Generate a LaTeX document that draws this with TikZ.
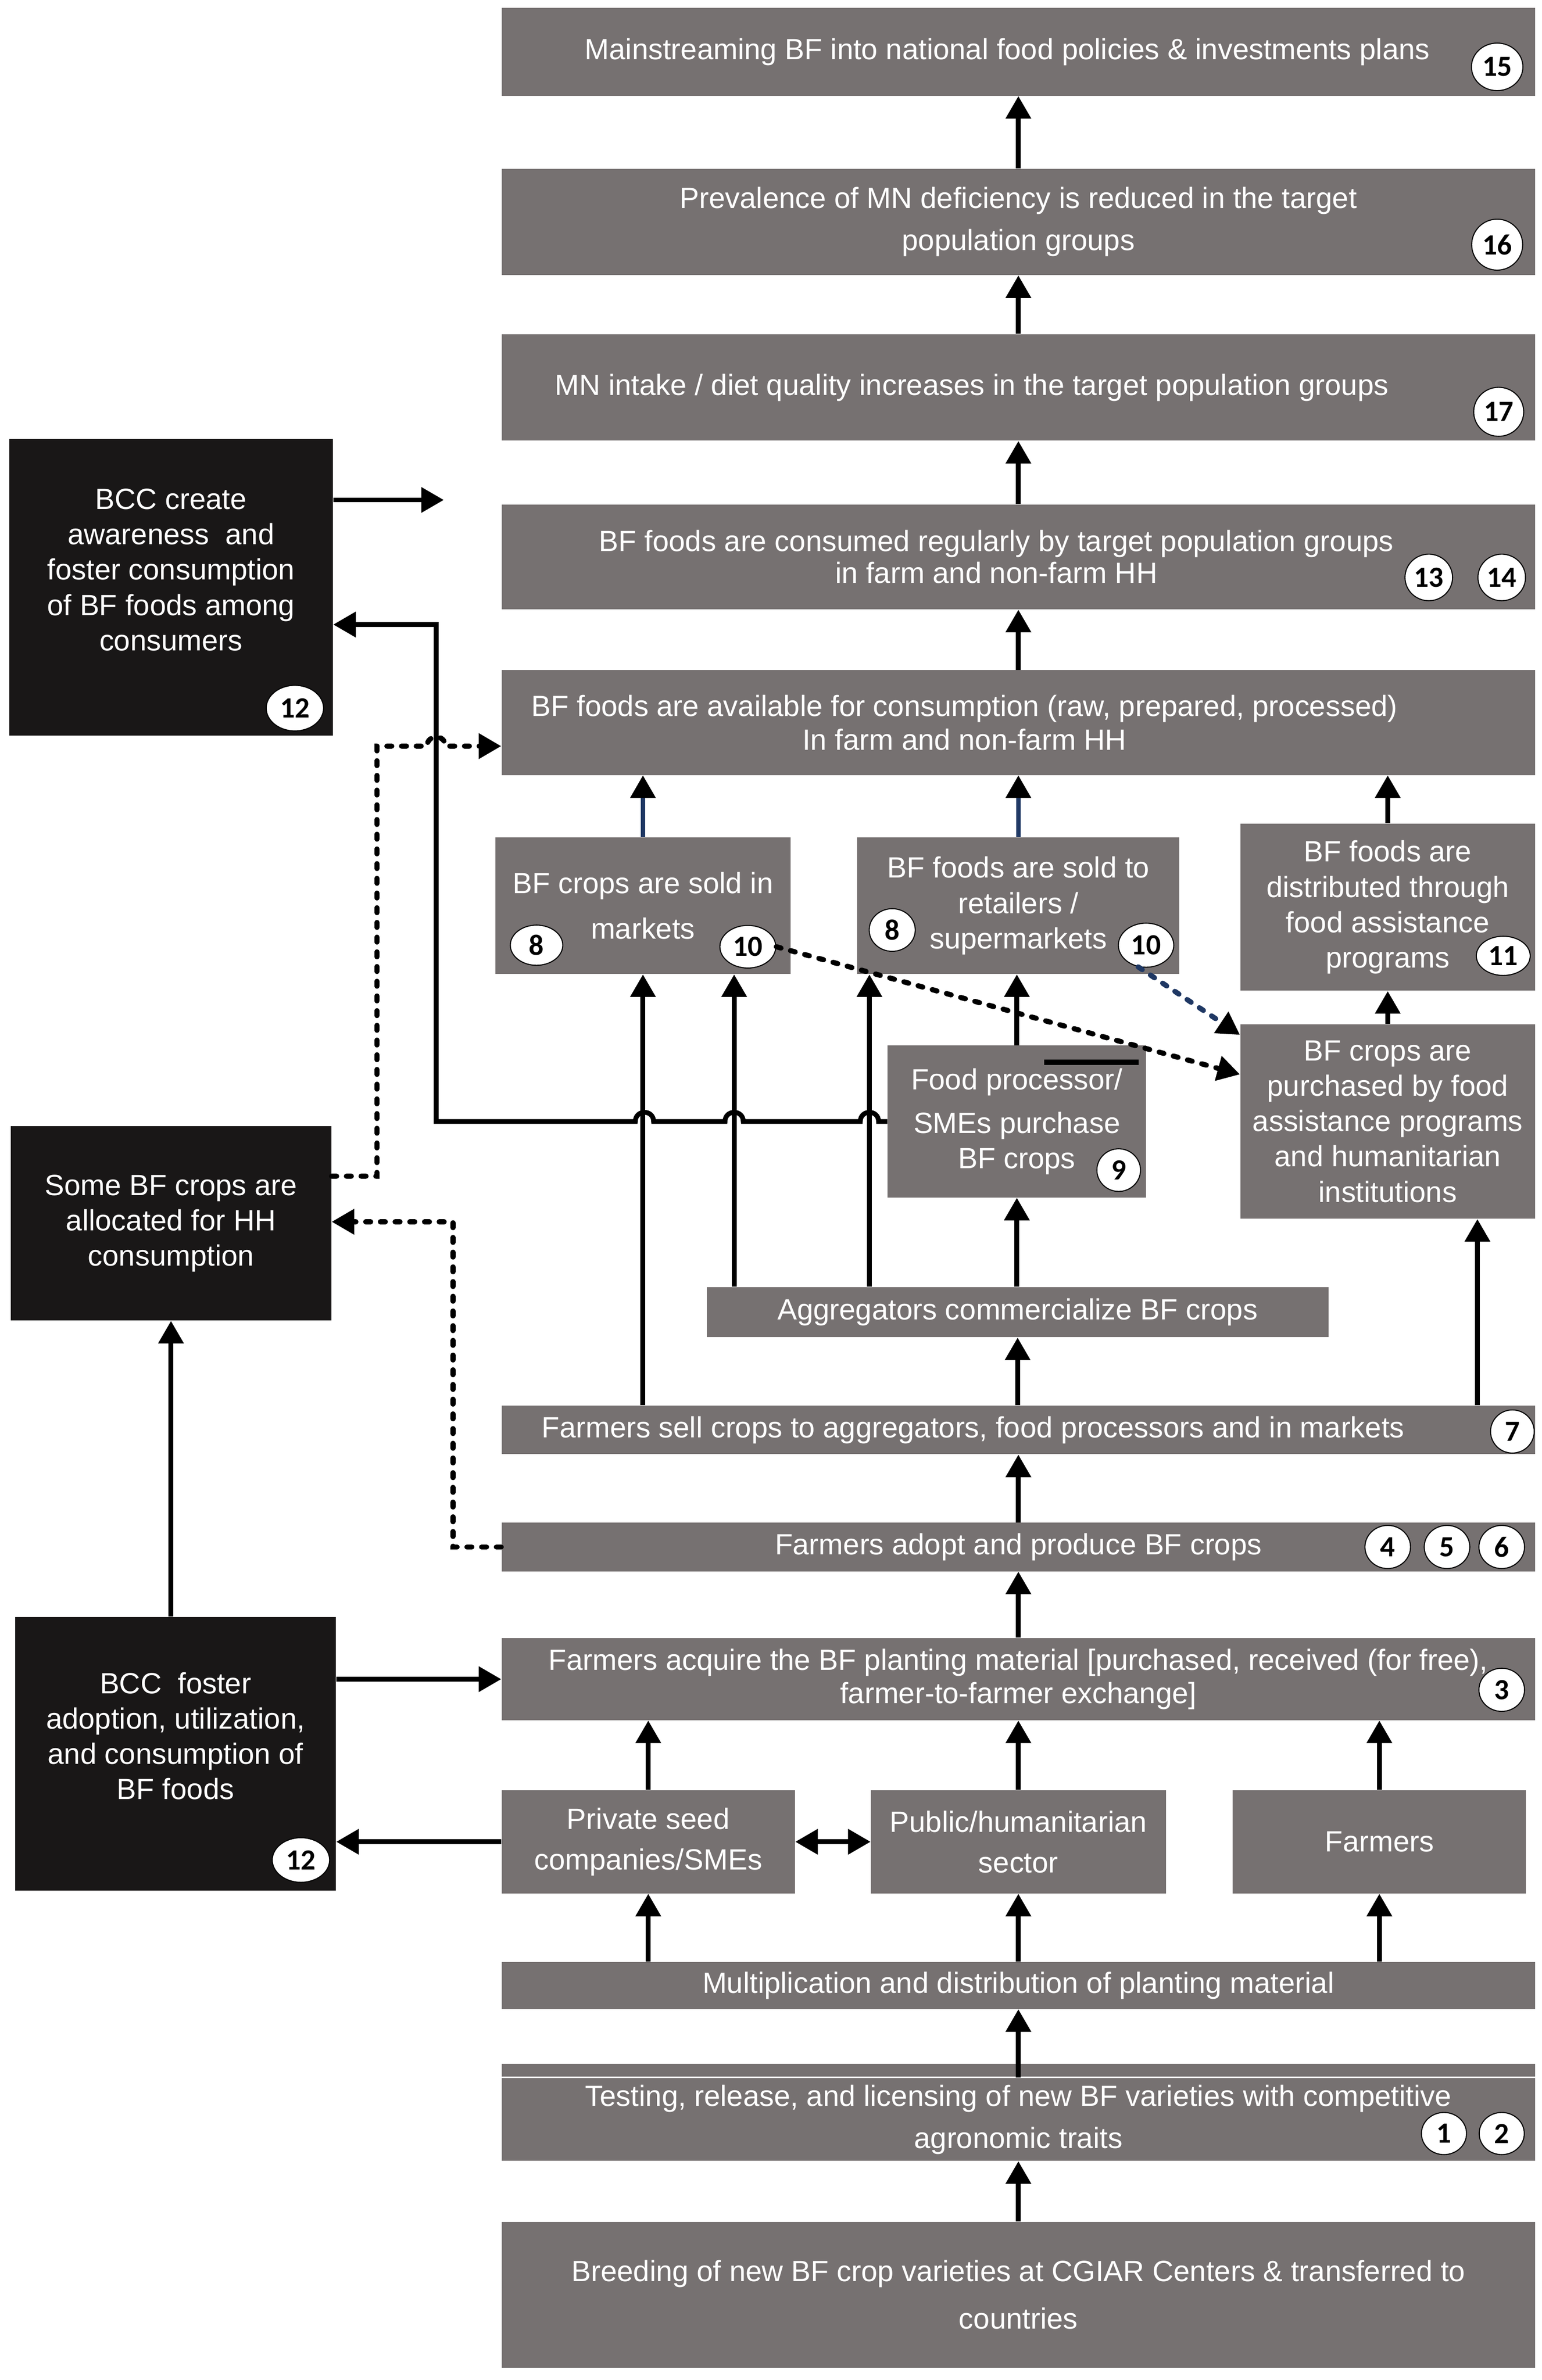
\documentclass[tikz,border=0pt]{standalone}
\usepackage{fontspec}
\setmainfont{Liberation Sans}
\newfontfamily\badgefont{Carlito}
\usetikzlibrary{arrows.meta,shapes.geometric}

\definecolor{boxgray}{RGB}{118,113,113}
\definecolor{boxblack}{RGB}{25,23,23}
\definecolor{linenavy}{RGB}{31,56,100}

\tikzset{
    gbox/.style={fill=boxgray, inner sep=0pt, text=white, align=center, font=\fontsize{17}{20.5}\selectfont},
    kbox/.style={gbox, fill=boxblack},
    bdim/.style 2 args={minimum width=#1*0.031cm, minimum height=#2*0.031cm},
    badge/.style={ellipse, fill=white, draw=black, line width=0.6pt, inner sep=0pt,
        minimum width=0.93cm, minimum height=0.88cm, font=\badgefont\bfseries\fontsize{17}{17}\selectfont},
    bsize/.style 2 args={minimum width=#1cm, minimum height=#2cm},
    tip/.tip={Triangle[width=0.5cm, length=0.46cm]},
    arr/.style={line width=2.8pt, -tip},
    dblarr/.style={line width=2.8pt, tip-tip},
    navyarr/.style={line width=2.6pt, draw=linenavy, -{Triangle[width=0.5cm, length=0.46cm, color=black]}},
    dasharr/.style={line width=3pt, line cap=round, dash pattern=on 0.1cm off 0.2cm, -tip},
    navydash/.style={dasharr, draw=linenavy, -{Triangle[width=0.5cm, length=0.46cm, color=black]}}
}

\begin{document}
\begin{tikzpicture}[x=0.031cm, y=-0.031cm]
        \useasboundingbox (0,0) rectangle (1014.5,1566.2);

        % Outcomes
        \node[gbox, bdim={680}{58}] (policy) at (670,34) {Mainstreaming BF into national food policies \& investments plans\hspace*{0.45cm}};
        \node[gbox, bdim={680}{70}] (prev) at (670,146) {Prevalence of MN deficiency is reduced in the target\\[4pt]population groups};
        \node[gbox, bdim={680}{70}] (intake) at (670,255) {MN intake / diet quality increases in the target population groups\hspace*{1.9cm}};
        \node[gbox, bdim={680}{69}] (consumed) at (670,366.5) {BF foods are consumed regularly by target population groups\hspace*{0.9cm}\\[-2pt]in farm and non-farm HH\hspace*{0.9cm}};
        \node[gbox, bdim={680}{69}] (avail) at (670,475.5) {BF foods are available for consumption (raw, prepared, processed)\hspace*{2.2cm}\\[-1pt]In farm and non-farm HH\hspace*{2.2cm}};

        % Market channels
        \node[gbox, bdim={194}{90}] (markets) at (423,596) {BF crops are sold in\\[6pt]markets};
        \node[gbox, bdim={212}{90}] (retail) at (670,596) {BF foods are sold to\\retailers /\\supermarkets};
        \node[gbox, bdim={194}{110}] (distrib) at (913,597) {BF foods are\\distributed through\\food assistance\\programs};
        \node[gbox, bdim={194}{128}] (purch) at (913,738) {BF crops are\\purchased by food\\assistance programs\\and humanitarian\\institutions};
        \node[gbox, bdim={170}{100}] (proc) at (669,738) {Food processor/\\[5pt]SMEs purchase\\BF crops};
        \draw[line width=3pt] (687,699) -- (749,699);
        \node[gbox, bdim={409}{33}] (agg) at (669.5,863.5) {Aggregators commercialize BF crops};

        % Production
        \node[gbox, bdim={680}{32}] (sell) at (670,941) {Farmers sell crops to aggregators, food processors and in markets\hspace*{1.85cm}};
        \node[gbox, bdim={680}{32}] (adopt) at (670,1018) {Farmers adopt and produce BF crops};
        \node[gbox, bdim={680}{54}] (acquire) at (670,1105) {Farmers acquire the BF planting material [purchased, received (for free),\\[-1pt]farmer-to-farmer exchange]};
        \node[gbox, bdim={193}{68}] (private) at (426.5,1212) {Private seed\\[3pt]companies/SMEs};
        \node[gbox, bdim={194}{68}] (public) at (670,1212) {Public/humanitarian\\[3pt]sector};
        \node[gbox, bdim={193}{68}] (farmers) at (907.5,1212) {Farmers};
        \node[gbox, bdim={680}{31}] (multi) at (670,1306.5) {Multiplication and distribution of planting material};
        \fill[boxgray] (330,1358) rectangle (1010,1366.5);
        \node[gbox, bdim={680}{54.5}] (testing) at (670,1394.75) {Testing, release, and licensing of new BF varieties with competitive\\[4pt]agronomic traits};
        \node[gbox, bdim={680}{96}] (breed) at (670,1510) {Breeding of new BF crop varieties at CGIAR Centers \& transferred to\\[7pt]countries};

        % BCC boxes
        \node[kbox, bdim={213}{195}] (bccA) at (112.5,386.5) {BCC create\\awareness\ \ and\\foster consumption\\of BF foods among\\consumers\\ \mbox{}};
        \node[kbox, bdim={211}{128}] (somebf) at (112.5,805) {Some BF crops are\\allocated for HH\\consumption};
        \node[kbox, bdim={211}{180}] (bccB) at (115.5,1154) {BCC\ \ foster\\adoption, utilization,\\and consumption of\\BF foods\\ \mbox{}};

        % Badges
        \node[badge, bsize={1.05}{0.97}] (n15) at (985,44) {15};
        \node[badge, bsize={1.04}{1.04}] (n16) at (985,161) {16};
        \node[badge, bsize={1.02}{1.0}] (n17) at (986,271) {17};
        \node[badge, bsize={0.97}{0.95}] (n13) at (940,380) {13};
        \node[badge, bsize={0.97}{0.95}] (n14) at (988,380) {14};
        \node[badge, bsize={1.17}{0.93}] (n12a) at (194,466) {12};
        \node[badge, bsize={1.07}{0.82}] (m8) at (353,622) {8};
        \node[badge, bsize={1.14}{0.87}] (m10) at (492,623) {10};
        \node[badge, bsize={0.94}{0.87}] (r8) at (587,612) {8};
        \node[badge, bsize={1.13}{0.9}] (r10) at (754,622) {10};
        \node[badge, bsize={1.1}{0.8}] (n11) at (989,629) {11};
        \node[badge, bsize={0.89}{0.87}] (n9) at (736,770) {9};
        \node[badge, bsize={0.89}{0.88}] (n7) at (995,942) {7};
        \node[badge] (n4) at (913,1018) {4};
        \node[badge] (n5) at (952,1018) {5};
        \node[badge] (n6) at (988,1018) {6};
        \node[badge] (n3) at (988,1112) {3};
        \node[badge, bsize={1.17}{0.91}] (n12b) at (198,1224) {12};
        \node[badge, bsize={0.92}{0.86}] (n1) at (950,1404) {1};
        \node[badge, bsize={0.92}{0.86}] (n2) at (988,1404) {2};

        % Columns of the off-centre arrows
        \coordinate (xb) at (483,0);
        \coordinate (xc) at (572,0);
        \coordinate (xd) at (972,0);
        \coordinate (bccAend) at (292,329);

        % Upward chain
        \draw[arr] (prev) -- (policy);
        \draw[arr] (intake) -- (prev);
        \draw[arr] (consumed) -- (intake);
        \draw[arr] (avail) -- (consumed);
        \draw[navyarr] (markets.north) -- (markets.north |- avail.south);
        \draw[navyarr] (retail.north) -- (retail.north |- avail.south);
        \draw[arr] (distrib.north) -- (distrib.north |- avail.south);
        \draw[arr] (purch) -- (distrib);
        \draw[arr] (proc.north) -- (proc.north |- retail.south);
        \draw[arr] (proc.south |- agg.north) -- (proc.south);
        \draw[arr] (sell.north -| markets.south) -- (markets.south);
        \draw[arr] (agg.north -| xb) -- (markets.south -| xb);
        \draw[arr] (agg.north -| xc) -- (retail.south -| xc);
        \draw[arr] (agg.south |- sell.north) -- (agg.south);
        \draw[arr] (sell.north -| xd) -- (purch.south -| xd);
        \draw[arr] (adopt) -- (sell);
        \draw[arr] (acquire) -- (adopt);
        \draw[arr] (private.north) -- (private.north |- acquire.south);
        \draw[arr] (public) -- (acquire);
        \draw[arr] (farmers.north) -- (farmers.north |- acquire.south);
        \draw[arr] (multi.north -| private.south) -- (private.south);
        \draw[arr] (multi.north -| public.south) -- (public.south);
        \draw[arr] (multi.north -| farmers.south) -- (farmers.south);
        \draw[arr] (testing) -- (multi);
        \draw[arr] (breed) -- (testing);
        \draw[dblarr] (private) -- (public);

        % BCC links
        \draw[arr] (private.west) -- (private.west -| bccB.east);
        \draw[arr] (acquire.west -| bccB.east) -- (acquire.west);
        \draw[arr] (bccB.north -| somebf.south) -- (somebf.south);
        \draw[arr] (bccA.east |- bccAend) -- (bccAend);
        \draw[arr] (proc.west) -- (578,738) .. controls (578,730) and (566,730) .. (566,738)
            -- (489,738) .. controls (489,730) and (477,730) .. (477,738)
            -- (430,738) .. controls (430,730) and (418,730) .. (418,738)
            -- (287,738) -- (287,411) -- (bccA.east |- 0,411);

        % Dashed flows
        \draw[dasharr] (somebf.east |- 0,774) -- (248,774) -- (248,491) -- (281,491)
            .. controls (281,483) and (293,483) .. (293,491) -- (avail.west |- 0,491);
        \draw[dasharr] (adopt.west) -- (298,1018) -- (298,804) -- (somebf.east |- 0,804);
        \draw[dasharr] (m10.east) -- (purch.west |- 0,707);
        \draw[navydash] (r10.250) -- (purch.west |- 0,681);
\end{tikzpicture}
\end{document}
